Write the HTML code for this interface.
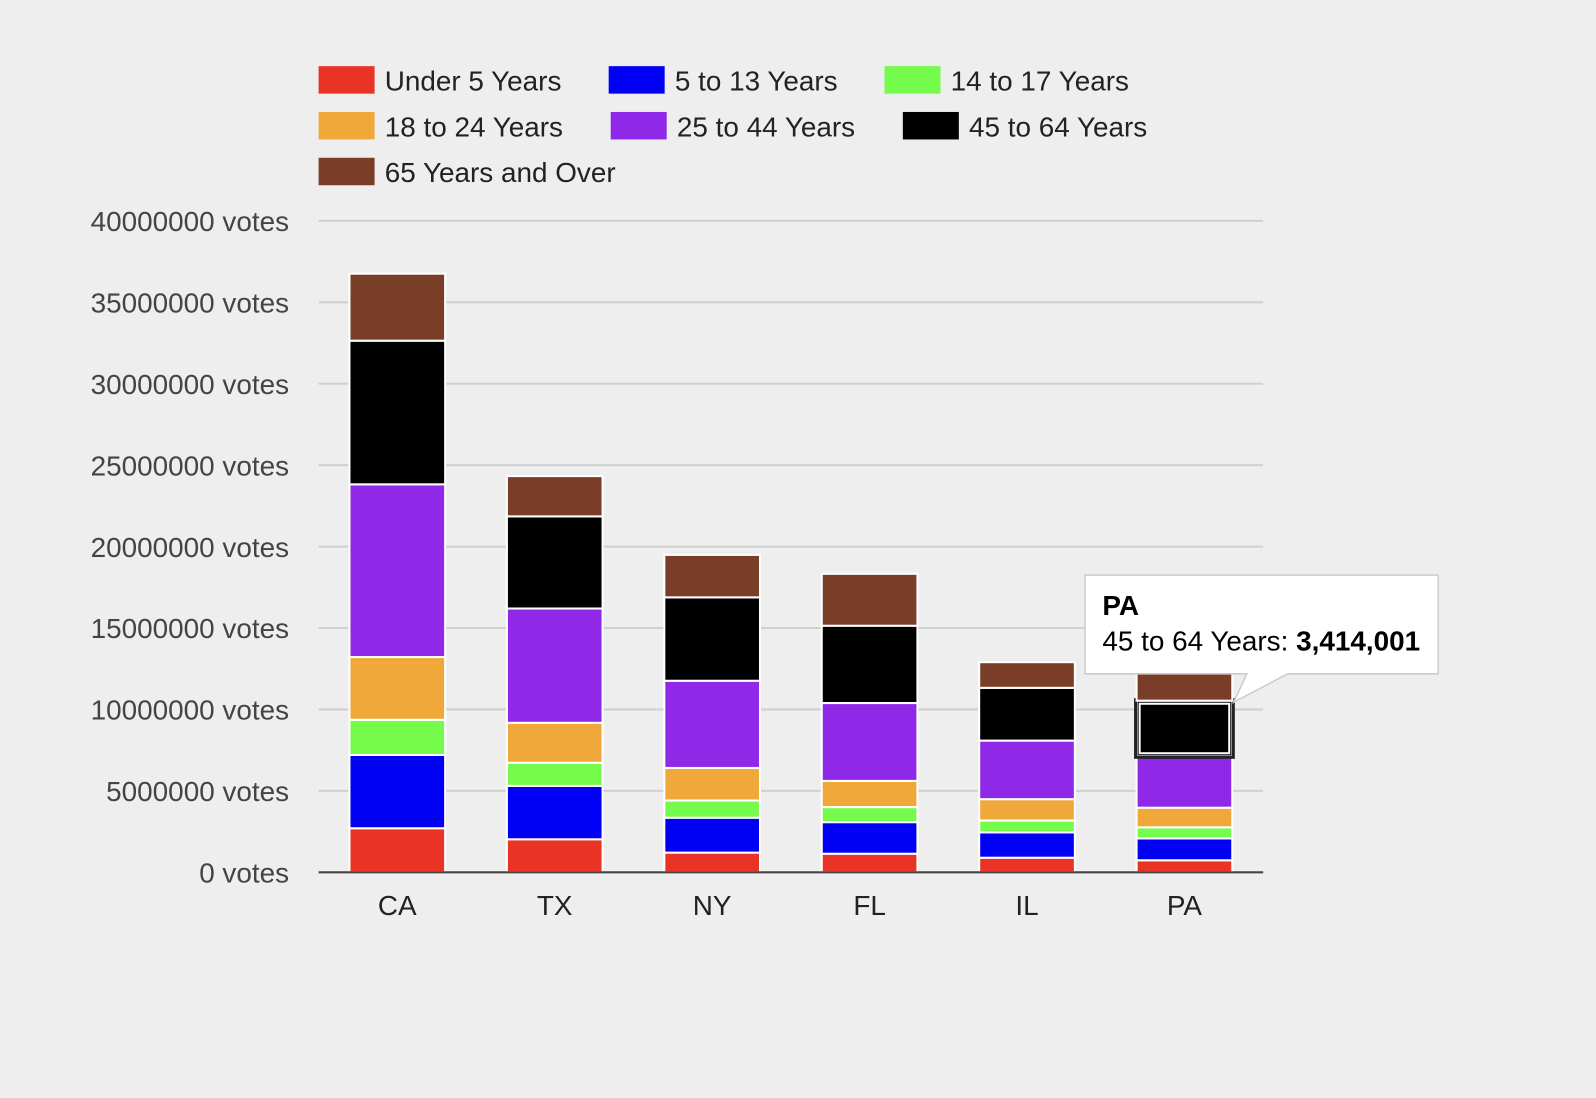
<!DOCTYPE html>
<html><head><meta charset="utf-8"><style>
body{margin:0;background:#eeeeee;}
svg{display:block;font-family:"Liberation Sans",Arial,sans-serif;}
</style></head><body>
<svg id="chart" width="1596" height="1098" viewBox="0 0 1568 1078.74">
<rect width="1568" height="1080" fill="#eeeeee"/>
<g id="grid"></g><g id="bars"></g><g id="axes"></g><g id="legend"></g><g id="tip"></g>
</svg>
<script>
const categories=["CA","TX","NY","FL","IL","PA"];
const seriesNames=["Under 5 Years","5 to 13 Years","14 to 17 Years","18 to 24 Years","25 to 44 Years","45 to 64 Years","65 Years and Over"];
const under5=[2704659,2027307,1208495,1140516,894368,737462];
const age5to13=[4499890,3277946,2141490,1938695,1558919,1345341];
const age14to17=[2159981,1420518,1058031,925060,725973,679201];
const age18to24=[3853788,2454721,1999120,1607297,1311479,1203944];
const age25to44=[10604510,7017731,5355235,4782119,3596343,3157759];
const age45to64=[8819342,5656528,5120254,4746856,3239173,3414001];
const age65plus=[4114496,2472223,2607672,3187797,1575308,1910571];
const yTicks=[0,5000000,10000000,15000000,20000000,25000000,30000000,35000000,40000000];
const colors=["#e83325","#0000f5","#75fb4c","#f1a83b","#9029e7","#000000","#7a3e28"];
const series=[under5,age5to13,age14to17,age18to24,age25to44,age45to64,age65plus];
const NS="http://www.w3.org/2000/svg";
const X0=313,X1=1241,Y0=857,Y1=217,YMAX=40000000;
const y=v=>Y0-(v/YMAX)*(Y0-Y1);
const step=(X1-X0)/categories.length, bw=94;
const xc=i=>X0+step*(i+0.5);
const FS=27.4;
function mk(t,a,p){const e=document.createElementNS(NS,t);for(const k in a)e.setAttribute(k,a[k]);p.appendChild(e);return e;}
const grid=document.getElementById('grid'),axes=document.getElementById('axes'),bars=document.getElementById('bars'),leg=document.getElementById('legend'),tip=document.getElementById('tip');
yTicks.forEach(v=>{
 if(v!==0){
 const l=mk('line',{x1:X0,x2:X1,y1:y(v),y2:y(v),stroke:'#d0d0d0','stroke-width':2},grid);
 
 
 }
 const t=mk('text',{x:284,y:y(v)+10,'text-anchor':'end','font-size':FS,fill:'#444'},axes);
 t.textContent=v+' votes';
 
 
});
const ax=mk('line',{x1:X0,x2:X1,y1:Y0,y2:Y0,stroke:'#444','stroke-width':2},axes);


categories.forEach((c,i)=>{
 const t=mk('text',{x:xc(i),y:899,'text-anchor':'middle','font-size':FS,fill:'#222'},axes);
 t.textContent=c;
 
 
 let cum=0;
 series.forEach((s,j)=>{
  const a=cum,b=cum+s[i];cum=b;
  const r=mk('rect',{x:xc(i)-bw/2,y:y(b),width:bw,height:y(a)-y(b),fill:colors[j],stroke:'#fff','stroke-width':2},bars);
  
  
  if(c==='PA'&&j===5){
   const h=mk('rect',{x:xc(i)-bw/2+3,y:y(b)+3,width:bw-6,height:y(a)-y(b)-6,fill:'none',stroke:'#fff','stroke-width':2},bars);
   
   
   const h2=mk('rect',{x:xc(i)-bw/2-1,y:y(b)-1,width:bw+2,height:y(a)-y(b)+2,fill:'none',stroke:'#222','stroke-width':3},bars);
   
   
  }
 });
});
const legPos=[[313,65],[598,65],[869,65],[313,110],[600,110],[887,110],[313,155]];
seriesNames.forEach((n,j)=>{
 const g=mk('g',{},leg);
 
 
 mk('rect',{x:legPos[j][0],y:legPos[j][1],width:55,height:27,fill:colors[j]},g);
 const t=mk('text',{x:legPos[j][0]+65,y:legPos[j][1]+24,'font-size':FS,fill:'#222'},g);
 t.textContent=n;
});
const tg=mk('g',{},tip);


mk('path',{d:'M1066 565 H1413 V662 H1265 L1212 690 L1225 662 H1066 Z',fill:'#fff',stroke:'#ccc','stroke-width':1.5},tg);
const t1=mk('text',{x:1083,y:604,'font-size':FS,'font-weight':'bold',fill:'#000'},tg);t1.textContent='PA';
const t2=mk('text',{x:1083,y:639,'font-size':FS,fill:'#000'},tg);
t2.innerHTML='45 to 64 Years: <tspan font-weight="bold">'+age45to64[5].toLocaleString('en-US')+'</tspan>';
</script>
</body></html>
